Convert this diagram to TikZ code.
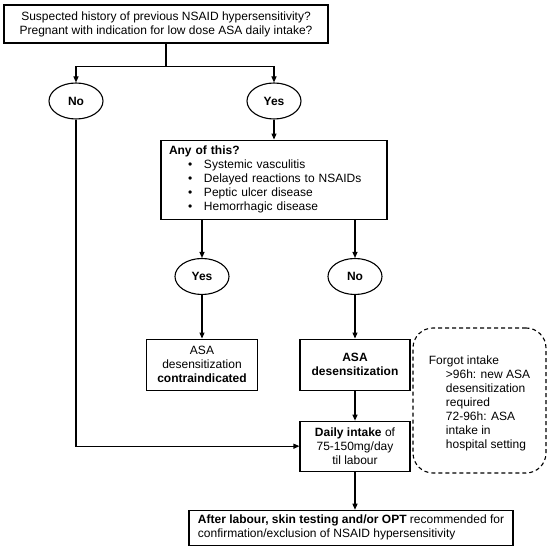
\documentclass[tikz,border=0pt]{standalone}
\usepackage{fontspec}
\setmainfont{Liberation Sans}
\usetikzlibrary{arrows.meta,positioning,shapes.geometric}

\begin{document}
\begin{tikzpicture}[x=1pt,y=1pt,
  node distance=30pt,
  box/.style={draw,line width=1.1pt,align=center,inner sep=0pt,
              font=\fontsize{12}{14}\selectfont},
  answer/.style={draw,ellipse,line width=1.1pt,minimum width=54pt,minimum height=36pt,
                 inner sep=0pt,font=\fontsize{12}{14}\selectfont\bfseries},
  note/.style={draw,line width=1.1pt,dash pattern=on 4pt off 3pt,rounded corners=20pt,
               align=left,inner sep=0pt,font=\fontsize{12}{14}\selectfont},
  flow/.style={-{Triangle[length=6pt,width=5pt]},line width=1.1pt}
]
\useasboundingbox (0,0) rectangle (550,-548);
\node[box,minimum width=324pt,minimum height=38pt] (history) at (166,-24)
  {Suspected history of previous NSAID hypersensitivity?\\
   Pregnant with indication for low dose ASA daily intake?};
\node[answer] (no1) at (76,-101) {No};
\node[answer] (yes1) at (274,-101) {Yes};
\node[box,below=20pt of yes1,align=left,text width=210pt,inner xsep=8pt,minimum height=79pt] (any)
  {\textbf{Any of this?}\\
   \hspace*{19pt}\makebox[16pt][l]{\textbullet}Systemic vasculitis\\
   \hspace*{19pt}\makebox[16pt][l]{\textbullet}Delayed reactions to NSAIDs\\
   \hspace*{19pt}\makebox[16pt][l]{\textbullet}Peptic ulcer disease\\
   \hspace*{19pt}\makebox[16pt][l]{\textbullet}Hemorrhagic disease};
\node[answer] (yes2) at (202,-276.5) {Yes};
\node[answer] (no2) at (355,-276.5) {No};
\node[box,below=43.5pt of yes2,minimum width=111pt,minimum height=51pt] (contra)
  {ASA\\desensitization\\\textbf{contraindicated}};
\node[box,below=43.5pt of no2,minimum width=110pt,minimum height=51pt,font=\fontsize{12}{14}\selectfont\bfseries] (desens)
  {ASA\\desensitization};
\node[box,below=30pt of desens,minimum width=110pt,minimum height=50pt] (daily)
  {\textbf{Daily intake} of\\75-150mg/day\\til labour};
\node[box,below=38pt of daily,xshift=-4pt,align=left,minimum width=324pt,minimum height=35pt] (after)
  {\textbf{After labour, skin testing and/or OPT} recommended for\\
   confirmation/exclusion of NSAID hypersensitivity};
\node[note,minimum width=133pt,minimum height=145pt] (forgot) at (479.5,-400.5)
  {\rule{0pt}{14pt}Forgot intake\\
   \hspace*{17pt}>96h: new ASA\\
   \hspace*{17pt}desensitization\\
   \hspace*{17pt}required\\
   \hspace*{17pt}72-96h: ASA\\
   \hspace*{17pt}intake in\\
   \hspace*{17pt}hospital setting};
\draw[line width=1.1pt] (history.south) -- ++(0,-23) coordinate (split);
\draw[flow] (split) -| (no1.north);
\draw[flow] (split) -| (yes1.north);
\draw[flow] (yes1) -- (any);
\draw[flow] (yes2 |- any.south) -- (yes2);
\draw[flow] (no2 |- any.south) -- (no2);
\draw[flow] (yes2) -- (contra);
\draw[flow] (no2) -- (desens);
\draw[flow] (desens) -- (daily);
\draw[flow] (no1) |- (daily);
\draw[flow] (daily.south) -- (daily.south |- after.north);
\end{tikzpicture}
\end{document}
